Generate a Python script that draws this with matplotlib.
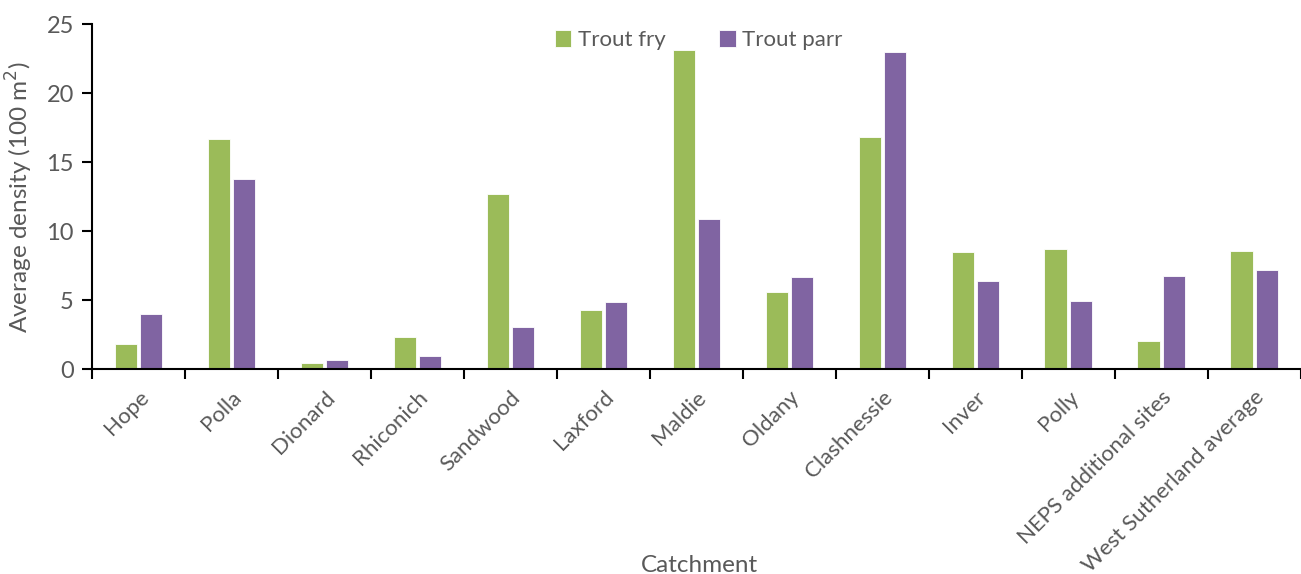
import matplotlib
matplotlib.use("Agg")
import matplotlib.pyplot as plt
import numpy as np

plt.rcParams['font.family'] = ['Lato', 'DejaVu Sans']

# Average trout densities by catchment
catchments = ["Hope", "Polla", "Dionard", "Rhiconich", "Sandwood", "Laxford",
              "Maldie", "Oldany", "Clashnessie", "Inver", "Polly",
              "NEPS additional sites", "West Sutherland average"]
trout_fry = [1.8, 16.7, 0.43, 2.3, 12.7, 4.3, 23.1, 5.6, 16.85, 8.5, 8.7, 2.03, 8.55]
trout_parr = [3.99, 13.8, 0.65, 0.94, 3.04, 4.86, 10.9, 6.67, 23.0, 6.38, 4.93, 6.74, 7.17]

green = "#9BBB59"
purple = "#8064A2"
text_col = "#595959"

fig = plt.figure(figsize=(13.01, 5.74), dpi=100)
ax = fig.add_axes([0.0707, 0.357, 0.929, 0.601])

x = np.arange(len(catchments))
w = 0.24
ax.bar(x - w / 2 - 0.015, trout_fry, w, color=green, edgecolor="white", linewidth=0.6, label="Trout fry")
ax.bar(x + w / 2 + 0.015, trout_parr, w, color=purple, edgecolor="white", linewidth=0.6, label="Trout parr")

ax.set_xlim(-0.5, len(catchments) - 0.5)
ax.set_ylim(0, 25)
ax.set_yticks(np.arange(0, 26, 5))

# category boundaries carry the x tick marks, labels sit at the centres
ax.set_xticks(np.arange(-0.5, len(catchments), 1.0))
ax.set_xticklabels([])
ax.set_xticks(x, minor=True)
ax.set_xticklabels(catchments, minor=True, rotation=45, ha="right",
                   rotation_mode="anchor", fontsize=16, color=text_col)
ax.tick_params(axis="x", which="minor", length=0, pad=13)
ax.tick_params(axis="x", which="major", direction="out", length=7, width=1.5)
ax.tick_params(axis="y", direction="out", length=7, width=1.5, labelsize=17,
               labelcolor=text_col, pad=6)

for side in ["top", "right"]:
    ax.spines[side].set_visible(False)
for side in ["left", "bottom"]:
    ax.spines[side].set_linewidth(1.5)

ax.set_ylabel("Average density (100 m$^2$)", fontsize=17.5, color=text_col, labelpad=8)
ax.set_xlabel("Catchment", fontsize=17.5, color=text_col, va="center")
ax.xaxis.set_label_coords(0.503, -0.568)

leg = ax.legend(loc="upper center", bbox_to_anchor=(0.502, 1.04), ncol=2, frameon=False,
                fontsize=16, handlelength=0.75, handleheight=0.75, columnspacing=2.4,
                handletextpad=0.3)
for t in leg.get_texts():
    t.set_color(text_col)

fig.savefig("out.png", dpi=100)
